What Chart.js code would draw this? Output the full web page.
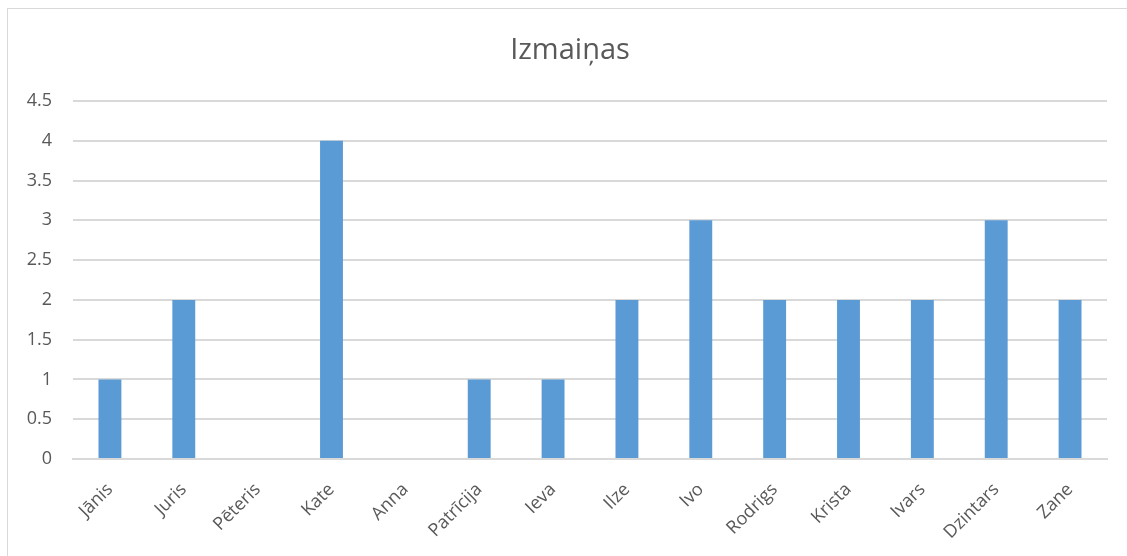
<!DOCTYPE html>
<html>
<head>
<meta charset="utf-8">
<script src="https://cdn.jsdelivr.net/npm/chart.js@4"></script>
<style>
  body { margin: 0; background: #fff; }
  #wrap { position: relative; width: 1127px; height: 556px; overflow: hidden; }
  #frame { position: absolute; left: 7px; top: 8px; width: 1200px; height: 600px; border: 1px solid #d9d9d9; box-sizing: border-box; }
  canvas { position: absolute; left: 0; top: 0; }
</style>
</head>
<body>
<div id="wrap">
  <div id="frame"></div>
  <canvas id="izmChart" width="1127" height="556"></canvas>
</div>
<script>
var names = ["Jānis", "Juris", "Pēteris", "Kate", "Anna", "Patrīcija", "Ieva", "Ilze", "Ivo", "Rodrigs", "Krista", "Ivars", "Dzintars", "Zane"];
var changes = [1, 2, 0, 4, 0, 1, 1, 2, 3, 2, 2, 2, 3, 2];
var yMin = 0, yMax = 4.5, yStep = 0.5;
var chartTitle = "Izmaiņas";

var font = "'Open Sans', 'DejaVu Sans', sans-serif";
var grey = "#595959";

// Excel centres the title on the whole chart frame, not on the canvas
var frameTitle = {
  id: 'frameTitle',
  afterDraw: function (chart) {
    var ctx = chart.ctx;
    ctx.save();
    ctx.font = "29px " + font;
    ctx.fillStyle = grey;
    ctx.textAlign = "center";
    ctx.textBaseline = "middle";
    ctx.fillText(chartTitle, 570, 51);
    ctx.restore();
  }
};

new Chart(document.getElementById("izmChart"), {
  type: 'bar',
  data: {
    labels: names,
    datasets: [{
      data: changes,
      label: chartTitle,
      backgroundColor: "#5b9bd5",
      barPercentage: 0.62,
      categoryPercentage: 0.5
    }]
  },
  options: {
    responsive: false,
    animation: false,
    layout: { padding: { left: 10, right: 20, top: 101, bottom: 0 } },
    plugins: {
      legend: { display: false },
      tooltip: { enabled: false },
      title: { display: false }
    },
    scales: {
      x: {
        grid: { display: false },
        border: { color: "#d9d9d9", width: 2 },
        ticks: {
          color: grey,
          font: { family: font, size: 18 },
          maxRotation: 45,
          minRotation: 45,
          autoSkip: false,
          padding: 12
        },
        afterFit: function (s) { s.height = 97; }
      },
      y: {
        min: yMin,
        max: yMax,
        grid: { color: "#d9d9d9", lineWidth: 2, drawTicks: false },
        border: { display: false },
        ticks: {
          stepSize: yStep,
          color: grey,
          font: { family: font, size: 18 },
          padding: 21,
          callback: function (v) { return String(v); }
        },
        afterFit: function (s) { s.width = 63; }
      }
    }
  },
  plugins: [frameTitle]
});
</script>
</body>
</html>
